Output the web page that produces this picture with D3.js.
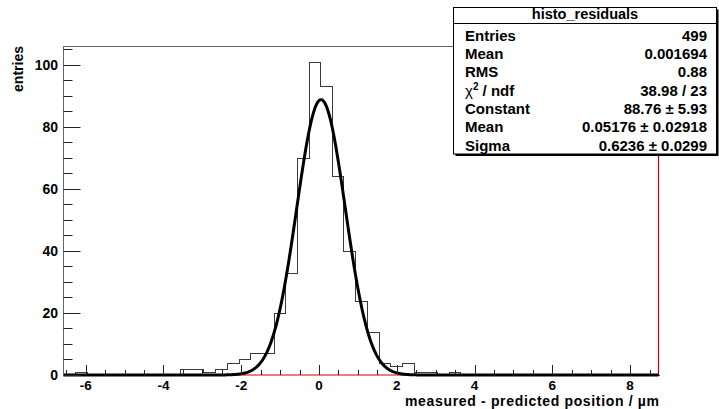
<!DOCTYPE html>
<html>
<head>
<meta charset="utf-8">
<script src="https://cdn.jsdelivr.net/npm/d3@7"></script>
<style>
  html, body { margin: 0; padding: 0; background: #fff; }
  svg { display: block; }
  text { font-family: "Liberation Sans", Arial, Helvetica, sans-serif; font-weight: bold; fill: #000; }
</style>
</head>
<body>
<svg id="chart" width="719" height="409"></svg>
<script>
// ---------------- data ----------------
const histName = "histo_residuals";
const binLow = -6.57;          // lower edge of first bin
const binWidth = 0.3;
const counts = [
  0, 1, 0, 0, 0, 0, 0, 0, 0, 0,
  2, 2, 1, 2, 4, 5, 7, 7, 20, 33,
  70, 101, 93, 64, 40, 24, 14, 4, 3, 4,
  1, 1, 0, 1, 0, 0, 0, 0, 0, 0,
  0, 0, 0, 0, 0, 0, 0, 0, 0, 0,
  0
];
const xDomain = [-6.57, 8.73];
const yDomain = [0, 106.05];
const xMajorTicks = [-6, -4, -2, 0, 2, 4, 6, 8];
const yMajorTicks = [0, 20, 40, 60, 80, 100];
const fitParams = [88.76, 0.05176, 0.6236]; // constant, mean, sigma
const statLabels = ["Entries", "Mean", "RMS", "chi2", "Constant", "Mean", "Sigma"];
const statValues = ["499", "0.001694", "0.88", "38.98 / 23", "88.76 \u00b1 5.93", "0.05176 \u00b1 0.02918", "0.6236 \u00b1 0.0299"];
const xTitle = "measured - predicted position / \u00b5m";
const yTitle = "entries";

// ---------------- layout ----------------
const L = 63.5, R = 658.5, T = 46, B = 375;
const svg = d3.select("#chart");
const x = d3.scaleLinear().domain(xDomain).range([L, R]);
const y = d3.scaleLinear().domain(yDomain).range([B, T]);

// frame lines
svg.append("line").attr("x1", L).attr("x2", R).attr("y1", B).attr("y2", B)
  .attr("stroke", "#d00000").attr("stroke-width", 1.2);
svg.append("line").attr("x1", R).attr("x2", R).attr("y1", T).attr("y2", B)
  .attr("stroke", "#d00000").attr("stroke-width", 1.2);
svg.append("line").attr("x1", L).attr("x2", R).attr("y1", T + 0.5).attr("y2", T + 0.5)
  .attr("stroke", "#666").attr("stroke-width", 1);

// histogram outline (step)
let pts = [];
counts.forEach((c, i) => {
  const x0 = binLow + i * binWidth, x1 = x0 + binWidth;
  pts.push([x(x0), y(c)]);
  pts.push([x(x1), y(c)]);
});
const hline = d3.line().x(d => Math.round(d[0]) + 0.5).y(d => Math.round(d[1]) + 0.5);
svg.append("path")
  .attr("d", "M" + (Math.round(x(binLow)) + 0.5) + "," + (B) + "L" + hline(pts).slice(1))
  .attr("fill", "none").attr("stroke", "#3a3a3a").attr("stroke-width", 1)
  .attr("shape-rendering", "crispEdges");

// gaussian fit curve
const gauss = v => fitParams[0] * Math.exp(-0.5 * Math.pow((v - fitParams[1]) / fitParams[2], 2));
const samples = d3.range(0, 801).map(i => xDomain[0] + (xDomain[1] - xDomain[0]) * i / 800);
svg.append("path")
  .attr("d", d3.line().x(v => x(v)).y(v => y(gauss(v)))(samples))
  .attr("fill", "none").attr("stroke", "#000").attr("stroke-width", 3)
  .attr("stroke-linejoin", "round");

// y axis
svg.append("line").attr("x1", L).attr("x2", L).attr("y1", T).attr("y2", B)
  .attr("stroke", "#666").attr("stroke-width", 1);
const yMinor = d3.range(0, 106, 5).filter(v => !yMajorTicks.includes(v));
yMinor.forEach(v => {
  svg.append("line").attr("x1", L).attr("x2", L + 9).attr("y1", Math.round(y(v)) + 0.5).attr("y2", Math.round(y(v)) + 0.5)
    .attr("stroke", "#222").attr("stroke-width", 1);
});
yMajorTicks.forEach(v => {
  const yy = Math.round(y(v)) + 0.5;
  svg.append("line").attr("x1", L).attr("x2", L + 17).attr("y1", yy).attr("y2", yy)
    .attr("stroke", "#222").attr("stroke-width", 1);
  svg.append("text").attr("x", 58).attr("y", y(v) + 5).attr("text-anchor", "end")
    .attr("font-size", 14).text(v);
});

// x axis ticks
const xMinor = d3.range(-6.5, 8.75, 0.5).filter(v => !xMajorTicks.includes(v));
xMinor.forEach(v => {
  const xx = Math.round(x(v)) + 0.5;
  svg.append("line").attr("x1", xx).attr("x2", xx).attr("y1", B).attr("y2", B - 5)
    .attr("stroke", "#222").attr("stroke-width", 1);
});
xMajorTicks.forEach(v => {
  const xx = Math.round(x(v)) + 0.5;
  svg.append("line").attr("x1", xx).attr("x2", xx).attr("y1", B).attr("y2", B - 10)
    .attr("stroke", "#222").attr("stroke-width", 1);
  svg.append("text").attr("x", x(v)).attr("y", 390).attr("text-anchor", "middle")
    .attr("font-size", 13.5).text(v);
});

// axis titles
svg.append("text").attr("x", 405).attr("y", 405.5).attr("text-anchor", "start")
  .attr("font-size", 14).attr("textLength", 254).attr("lengthAdjust", "spacing").text(xTitle);
svg.append("text").attr("transform", "translate(22.5,46) rotate(-90)")
  .attr("text-anchor", "end").attr("font-size", 14).text(yTitle);

// stats box
const bx = 453.5, by = 7.5, bw = 263, bh = 146.5;
svg.append("rect").attr("x", bx + 2).attr("y", by + 2).attr("width", bw).attr("height", bh).attr("fill", "#000");
svg.append("rect").attr("x", bx).attr("y", by).attr("width", bw).attr("height", bh)
  .attr("fill", "#fff").attr("stroke", "#000").attr("stroke-width", 1);
svg.append("line").attr("x1", bx).attr("x2", bx + bw).attr("y1", 23.5).attr("y2", 23.5)
  .attr("stroke", "#000").attr("stroke-width", 1);
svg.append("text").attr("x", bx + bw / 2).attr("y", 19).attr("text-anchor", "middle")
  .attr("font-size", 14.5).text(histName);
statLabels.forEach((lab, i) => {
  const yy = 40.7 + i * 18.33;
  const t = svg.append("text").attr("x", 465).attr("y", yy).attr("font-size", 15);
  if (lab === "chi2") {
    t.append("tspan").attr("font-weight", "normal").text("\u03c7");
    t.append("tspan").attr("font-size", 10).attr("dy", -6).text("2");
    t.append("tspan").attr("dy", 6).text(" / ndf");
  } else {
    t.text(lab);
  }
  svg.append("text").attr("x", 707).attr("y", yy).attr("text-anchor", "end")
    .attr("font-size", 15).text(statValues[i]);
});
</script>
</body>
</html>
